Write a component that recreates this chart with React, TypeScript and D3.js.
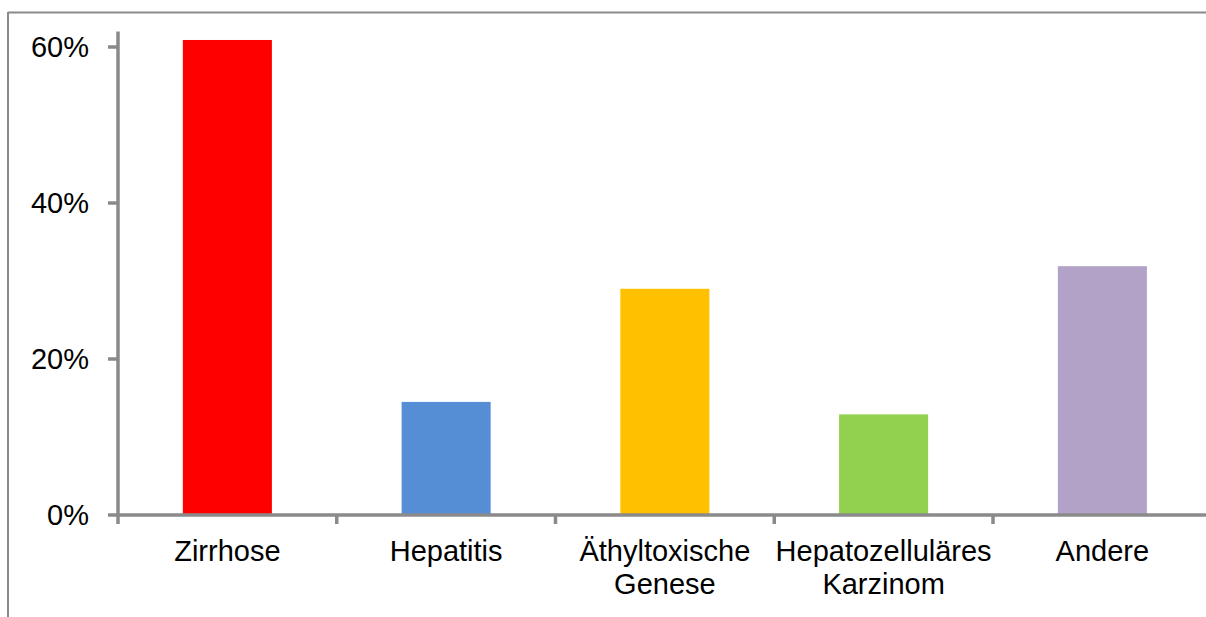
import React from 'react';
import * as d3 from 'd3';

const categories: string[][] = [
  ['Zirrhose'],
  ['Hepatitis'],
  ['Äthyltoxische', 'Genese'],
  ['Hepatozelluläres', 'Karzinom'],
  ['Andere'],
];
const values = [0.609, 0.145, 0.29, 0.129, 0.319];
const barColors = ['#FF0000', '#558ED5', '#FFC000', '#92D050', '#B3A2C7'];
const yTicks = [0, 0.2, 0.4, 0.6];

const W = 1206;
const H = 617;
const axisColor = '#8a8a8a';
const font = '"Liberation Sans", Arial, sans-serif';

const App: React.FC = () => {
  const keys = categories.map(c => c.join(' '));

  // category bands, bar = ~40% of each slot
  const x = d3.scaleBand<string>()
    .domain(keys)
    .range([118, 1211.75])
    .paddingInner(0.593)
    .paddingOuter(0.2965);

  const y = d3.scaleLinear()
    .domain([0, 0.6])
    .range([515, 47]);

  const step = x.step();
  const x0 = 118;
  const boundaries = d3.range(keys.length + 1).map(i => x0 + i * step);
  const fmt = d3.format('.0%');

  return (
    <svg
      width={W}
      height={H}
      style={{ position: 'absolute', left: 0, top: 0, background: '#fff' }}
      fontFamily={font}
    >
      {/* outer frame */}
      <line x1={8} x2={W} y1={12.5} y2={12.5} stroke={axisColor} strokeWidth={2} />
      <line x1={8} x2={8} y1={12} y2={H} stroke={axisColor} strokeWidth={2} />

      {/* bars */}
      {keys.map((k, i) => (
        <rect
          key={k}
          x={x(k)}
          width={x.bandwidth()}
          y={y(values[i])}
          height={y(0) - y(values[i])}
          fill={barColors[i]}
        />
      ))}

      {/* y axis */}
      <line x1={x0} x2={x0} y1={y(0.62)} y2={524} stroke={axisColor} strokeWidth={3.5} />
      {yTicks.map(t => (
        <g key={t}>
          <line x1={108} x2={x0} y1={y(t)} y2={y(t)} stroke={axisColor} strokeWidth={3.5} />
          <text
            x={89}
            y={y(t)}
            dy="0.36em"
            textAnchor="end"
            fontSize={29}
            fill="#000"
          >
            {fmt(t)}
          </text>
        </g>
      ))}

      {/* x axis */}
      <line x1={x0} x2={W} y1={y(0)} y2={y(0)} stroke={axisColor} strokeWidth={3.5} />
      {boundaries.slice(1).map((b, i) => (
        <line key={i} x1={b} x2={b} y1={y(0)} y2={524} stroke={axisColor} strokeWidth={3.5} />
      ))}

      {/* category labels */}
      {categories.map((lines, i) => {
        const cx = (x(keys[i]) ?? 0) + x.bandwidth() / 2;
        return (
          <text key={keys[i]} x={cx} y={561} textAnchor="middle" fontSize={29} fill="#000">
            {lines.map((l, j) => (
              <tspan key={j} x={cx} dy={j === 0 ? 0 : 33}>
                {l}
              </tspan>
            ))}
          </text>
        );
      })}
    </svg>
  );
};

export default App;
